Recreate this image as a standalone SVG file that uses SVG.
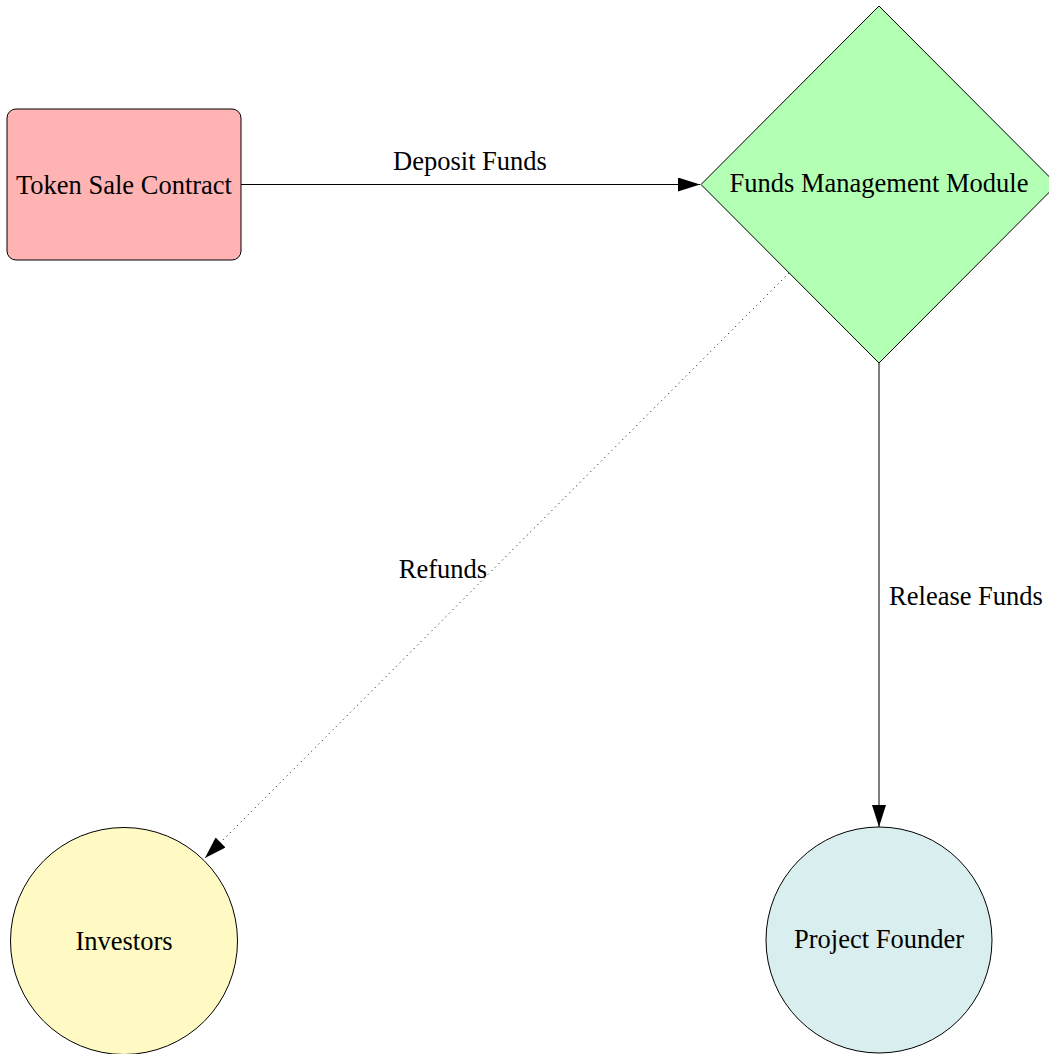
<svg xmlns="http://www.w3.org/2000/svg" width="1049" height="1054" viewBox="0 0 1049 1054">
<style>
  .lbl { font-family: "Liberation Serif", "Times New Roman", serif; font-size: 26.5px; fill: #000; text-anchor: middle; }
  .shape { stroke: #000; stroke-width: 1; }
  .edge { fill: none; stroke: #000; stroke-width: 1; }
  .dotted { stroke-dasharray: 1 4; }
</style>
<defs>
  <marker id="arrow" markerUnits="userSpaceOnUse" markerWidth="22" markerHeight="14" refX="22" refY="7" orient="auto">
    <path d="M0,0 L22,7 L0,14 z" fill="#000"/>
  </marker>
</defs>
<rect width="1049" height="1054" fill="#fff"/>
<g id="connectors">
  <g id="edge-deposit">
    <line class="edge" x1="241" y1="184.5" x2="700" y2="184.5" marker-end="url(#arrow)"/>
    <text class="lbl" x="470" y="170">Deposit Funds</text>
  </g>
  <g id="edge-release">
    <line class="edge" x1="879" y1="363" x2="879" y2="827" marker-end="url(#arrow)"/>
    <text class="lbl" x="966" y="605">Release Funds</text>
  </g>
  <g id="edge-refunds">
    <line class="edge dotted" x1="789" y1="273" x2="205" y2="858" marker-end="url(#arrow)"/>
    <text class="lbl" x="443" y="578">Refunds</text>
  </g>
</g>
<g id="node-token-sale">
  <rect class="shape" x="7" y="109" width="234" height="151" rx="9" ry="9" fill="#ffb3b3"/>
  <text class="lbl" x="124" y="194">Token Sale Contract</text>
</g>
<g id="node-funds-management">
  <polygon class="shape" points="879,6 1057,184.5 879,363 701,184.5" fill="#b3ffb3"/>
  <text class="lbl" x="879" y="192">Funds Management Module</text>
</g>
<g id="node-investors">
  <circle class="shape" cx="124" cy="941" r="113.5" fill="#fffac4"/>
  <text class="lbl" x="124" y="950">Investors</text>
</g>
<g id="node-project-founder">
  <circle class="shape" cx="879" cy="940" r="113" fill="#d9eeee"/>
  <text class="lbl" x="879" y="948">Project Founder</text>
</g>
</svg>
